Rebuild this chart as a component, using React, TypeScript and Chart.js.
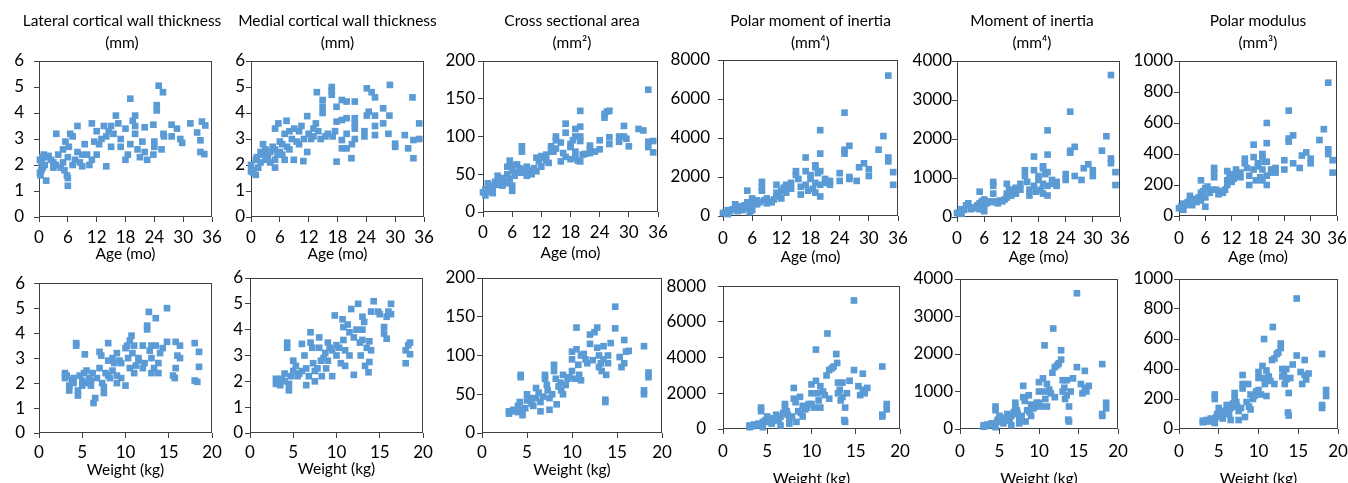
import React, { useEffect, useRef } from 'react';
import { Chart, registerables } from 'chart.js';

Chart.register(...registerables);

type Pt = number[];

// ---------- tick values ----------
const AGE_TICKS = [0, 6, 12, 18, 24, 30, 36];
const WEIGHT_TICKS = [0, 5, 10, 15, 20];
const THICK_TICKS = [0, 1, 2, 3, 4, 5, 6];
const AREA_TICKS = [0, 50, 100, 150, 200];
const POLAR_TICKS = [0, 2000, 4000, 6000, 8000];
const MOMENT_TICKS = [0, 1000, 2000, 3000, 4000];
const MODULUS_TICKS = [0, 200, 400, 600, 800, 1000];

// ---------- titles ----------
const TITLES = [
  ['Lateral cortical wall thickness', '(mm)'],
  ['Medial cortical wall thickness', '(mm)'],
  ['Cross sectional area', '(mm\u00B2)'],
  ['Polar moment of inertia', '(mm\u2074)'],
  ['Moment of inertia', '(mm\u2074)'],
  ['Polar modulus', '(mm\u00B3)'],
];
const AGE_LABEL = 'Age (mo)';
const WEIGHT_LABEL = 'Weight (kg)';

// ---------- data: [x, y] ----------
const lateralAge: Pt[] = [
  [0.2, 1.7], [0.3, 1.6], [0.5, 1.8], [0.8, 1.9], [0.5, 2.1], [0.2, 2.2], [0.7, 2.3], [1.0, 2.4], [1.2, 2.0], [1.5, 1.4],
  [1.5, 2.3], [2, 2.35], [2.5, 2.2], [3, 2.1], [3, 1.9], [3.5, 2.0], [4, 2.4], [3.6, 3.2], [4.5, 1.9], [5, 2.1],
  [5, 2.6], [5.3, 1.8], [5.5, 2.9], [5.8, 1.6], [6, 1.2], [6, 1.5], [6, 2.3], [6.2, 2.7], [6.5, 3.2], [7, 2.0],
  [7, 3.1], [7.5, 2.2], [8, 2.5], [8, 3.5], [8.5, 2.1], [9, 1.95], [9, 2.4], [9.5, 2.8], [10, 2.4], [10.5, 2.0],
  [11, 3.6], [11, 2.2], [11.5, 2.9], [12, 3.3], [12, 2.4], [12.5, 2.8], [13, 3.0], [13.5, 3.5], [14, 3.1], [14, 1.95],
  [14.5, 3.3], [15, 3.5], [15, 2.7], [15.5, 3.2], [16, 3.9], [16.5, 3.6], [17, 3.0], [17, 2.7], [18, 3.4], [18, 2.2],
  [18.5, 2.4], [19, 4.55], [19, 2.8], [19.5, 3.7], [20, 3.5], [20, 3.2], [20, 3.9], [20.5, 2.6], [21, 2.3], [21.5, 2.9],
  [22, 3.45], [22, 2.5], [22.5, 2.2], [23.8, 3.55], [24, 2.9], [23.8, 2.4], [24, 2.7], [24.5, 4.3], [24.5, 4.1], [24.9, 5.05],
  [25.5, 2.6], [25.8, 4.8], [25.9, 3.2], [26, 3.1], [27.6, 3.55], [27.6, 3.1], [28.7, 3.4], [29.4, 3.0], [29.8, 2.85], [31.5, 3.6],
  [32.9, 3.25], [33.6, 2.95], [33.9, 3.67], [34.6, 3.52], [33.6, 2.5], [34.4, 2.42],
];

const medialAge: Pt[] = [
  [0, 2.0], [0, 1.75], [0.3, 1.8], [0.5, 1.7], [1, 1.62], [1, 2.2], [1.2, 2.3], [1.5, 1.9], [2, 2.1], [2, 2.5],
  [2.5, 2.4], [2.5, 2.8], [3, 2.2], [3, 2.6], [3.5, 2.35], [4, 2.1], [4, 2.5], [4.5, 2.7], [5, 2.2], [5, 1.9],
  [5, 2.6], [5, 3.4], [5.5, 2.4], [6, 2.5], [5.7, 3.6], [6, 2.9], [6.5, 2.4], [6.5, 2.8], [7, 3.2], [7, 2.2],
  [7.5, 2.7], [7.4, 3.7], [8, 3.3], [8, 2.6], [8.5, 3.0], [8.9, 2.2], [9, 3.4], [9.5, 2.9], [10, 3.3], [10, 2.8],
  [10.5, 3.5], [10.9, 2.15], [11, 3.0], [11.7, 2.5], [11.7, 3.88], [12, 3.2], [12.5, 3.0], [13, 3.4], [13, 3.1], [13.5, 3.6],
  [13.7, 4.8], [14, 3.3], [14.5, 3.0], [14.9, 4.5], [14.9, 4.24], [14.9, 4.0], [15.5, 3.1], [16, 3.2], [16.8, 5.0], [16.8, 4.85],
  [16.8, 4.7], [17, 3.1], [17.5, 3.3], [17.8, 2.13], [17.8, 3.67], [17.8, 4.24], [18.9, 4.5], [18.9, 3.73], [18.9, 2.96], [18.9, 2.64],
  [19.9, 4.44], [19.9, 3.8], [19.9, 2.64], [19.9, 3.2], [20.9, 2.26], [21, 2.8], [21.6, 4.44], [21.6, 3.8], [21.6, 3.6], [21.6, 3.4],
  [21.6, 3.0], [23.6, 3.3], [23.6, 3.1], [24.1, 3.9], [24.5, 4.05], [24.1, 4.95], [25.1, 4.8], [25.8, 4.6], [25.8, 3.9], [25.8, 3.5],
  [25.8, 3.15], [27.5, 4.18], [27.5, 3.6], [28.9, 5.08], [28.8, 3.9], [28.6, 3.2], [30, 2.82], [30, 2.7], [32, 3.15], [32.7, 2.64],
  [33.6, 4.6], [33.8, 2.96], [33.8, 2.26], [35, 3.6], [35, 3.0],
];

const areaAge: Pt[] = [
  [0, 26], [0.5, 30], [0.5, 22], [1, 38], [1, 27], [1.5, 35], [2, 32], [2, 25], [2.5, 40], [3, 48],
  [3, 36], [3.5, 44], [4, 35], [4, 45], [4.5, 40], [5, 60], [5, 50], [5, 38], [5.5, 68], [5.5, 44],
  [6, 55], [6, 35], [6, 28], [6, 62], [6.5, 48], [7, 52], [7, 63], [7.5, 58], [8, 80], [8, 87],
  [8, 52], [8.5, 56], [9, 48], [9, 60], [9.5, 52], [10, 55], [10, 50], [10.5, 58], [11, 72], [11, 54],
  [11.5, 67], [12, 74], [12, 60], [12.5, 72], [13, 76], [13, 68], [13.5, 65], [14, 87], [14, 80], [14.5, 80],
  [15, 100], [15, 95], [15, 84], [16, 92], [16, 67], [16.5, 78], [17, 117], [17, 105], [17, 73], [18, 70],
  [18, 90], [18, 86], [18.5, 95], [19, 110], [19, 100], [19, 80], [19, 72], [19.5, 68], [20, 134], [20, 113],
  [20, 100], [20, 94], [20, 67], [20.5, 76], [21, 77], [22, 88], [22, 83], [22, 78], [23, 80], [24, 95],
  [24, 83], [25, 130], [25, 125], [25.5, 133], [26, 134], [26, 99], [26, 90], [28, 100], [28, 93], [29, 114],
  [29, 100], [29.5, 97], [30, 87], [32, 110], [33, 108], [34, 162], [34, 93], [34, 86], [35, 94], [35, 79],
];

const polarAge: Pt[] = [
  [0, 150], [0.5, 200], [1, 100], [1, 300], [1.5, 250], [2, 350], [2.5, 600], [3, 400], [3, 250], [3.5, 500],
  [4, 300], [4, 450], [4.5, 550], [5, 1300], [5, 700], [5, 400], [5.5, 600], [5.5, 200], [6, 900], [6, 500],
  [6, 300], [6.5, 750], [7, 800], [7, 600], [7.5, 700], [8, 1750], [8, 1500], [8, 1300], [8.5, 800], [9, 650],
  [9, 900], [9.5, 750], [10, 700], [10.5, 850], [11, 1600], [11, 1200], [11, 1000], [11.5, 1100], [12, 1300], [12, 900],
  [12.5, 1450], [13, 1200], [13, 1600], [13.5, 1500], [14, 1700], [14, 1400], [15, 2300], [15, 2100], [15.5, 1900], [16, 1100],
  [16, 1500], [17, 3000], [17, 2300], [17, 1600], [17.5, 1300], [18, 2100], [18, 1900], [18.5, 1400], [19, 2500], [19, 2600],
  [19, 1700], [19, 1200], [19.5, 2200], [20, 4400], [20, 3200], [20, 2300], [20, 1600], [20, 1000], [21, 1900], [21, 1700],
  [22, 1800], [22, 1600], [24, 2200], [24, 1800], [25, 5300], [25, 3400], [25, 3200], [26, 3600], [26, 2000], [26, 1900],
  [27.5, 1800], [28, 2500], [29, 2700], [30, 2400], [30, 2050], [32, 3400], [33, 4100], [34, 7200], [34, 3000], [34, 2800],
  [35, 2250], [35, 1600],
];

const momentAge: Pt[] = [
  [0, 100], [0.5, 120], [1, 200], [1, 80], [1.5, 180], [2, 300], [2.5, 350], [3, 200], [3.5, 250], [4, 220],
  [4.5, 300], [5, 650], [5, 350], [5, 200], [5.5, 400], [6, 450], [6, 150], [6, 300], [6.5, 350], [7, 400],
  [7.5, 380], [8, 900], [8, 800], [8, 600], [8.5, 400], [9, 350], [9.5, 420], [10, 400], [10.5, 450], [11, 850],
  [11, 600], [11, 500], [11.5, 700], [12, 650], [12, 550], [12.5, 700], [13, 750], [13, 600], [14, 850], [14, 700],
  [15, 1200], [15, 1050], [15.5, 900], [16, 550], [16, 700], [17, 1550], [17, 1200], [17, 800], [17.5, 650], [18, 1050],
  [18, 950], [18.5, 700], [19, 1300], [19, 1250], [19, 850], [19, 600], [19.5, 1100], [20, 2220], [20, 1600], [20, 1150],
  [20, 800], [20, 550], [21, 950], [21, 850], [22, 900], [22, 800], [24, 1100], [24, 950], [25, 2700], [25, 1700],
  [25, 1650], [26, 1800], [26, 1050], [27.5, 950], [28, 1250], [29, 1350], [30, 1200], [30, 1050], [32, 1700], [33, 2070],
  [34, 3640], [34, 1500], [34, 1380], [35, 1150], [35, 820],
];

const modulusAge: Pt[] = [
  [0, 50], [0.5, 60], [1, 80], [1, 40], [1.5, 70], [2, 90], [2.5, 130], [3, 100], [3, 70], [3.5, 110],
  [4, 90], [4.5, 120], [5, 230], [5, 150], [5, 100], [5.5, 160], [6, 180], [6, 60], [6, 120], [6.5, 190],
  [7, 150], [7.5, 170], [8, 310], [8, 280], [8, 250], [8.5, 170], [9, 140], [9.5, 160], [10, 150], [10.5, 170],
  [11, 290], [11, 230], [11, 200], [11.5, 250], [12, 270], [12, 220], [12.5, 240], [13, 300], [13, 260], [14, 280],
  [14, 250], [15, 370], [15, 340], [15.5, 310], [16, 200], [16, 260], [17, 460], [17, 380], [17, 300], [17.5, 230],
  [18, 340], [18, 320], [18.5, 250], [19, 400], [19, 380], [19, 300], [19, 230], [19.5, 350], [20, 600], [20, 470],
  [20, 350], [20, 260], [20, 200], [21, 300], [21, 280], [22, 310], [22, 280], [24, 360], [24, 300], [25, 680],
  [25, 500], [25, 480], [26, 520], [26, 340], [27.5, 310], [28, 390], [29, 410], [30, 370], [30, 340], [32, 490],
  [33, 560], [34, 860], [34, 430], [34, 400], [35, 360], [35, 280],
];

const lateralWeight: Pt[] = [
  [3, 2.4], [3, 2.2], [3.2, 2.3], [3.5, 1.7], [3.5, 1.9], [3.8, 2.1], [4, 2.0], [4, 2.2], [4.3, 3.6], [4.3, 3.5],
  [4.5, 1.5], [4.5, 1.7], [4.7, 2.3], [5, 2.1], [5, 1.9], [5.2, 2.4], [5.3, 3.15], [5.5, 2.5], [5.5, 2.0], [5.8, 2.2],
  [6, 1.9], [6, 2.1], [6.2, 2.4], [6.3, 1.2], [6.5, 1.4], [6.7, 2.2], [7, 2.6], [7, 3.25], [7.2, 3.1], [7.3, 2.0],
  [7.5, 1.6], [7.5, 1.85], [7.7, 2.4], [8, 3.6], [8, 2.9], [8, 2.3], [8.2, 2.2], [8.5, 3.0], [8.5, 2.5], [8.7, 2.8],
  [9, 3.2], [9, 2.0], [9, 2.3], [9.3, 2.9], [9.5, 2.8], [9.5, 2.2], [10, 1.9], [10, 3.4], [10.2, 3.5], [10.3, 3.0],
  [10.5, 3.7], [10.5, 2.6], [10.7, 3.9], [10.8, 3.2], [11, 2.4], [11, 3.5], [11.2, 2.7], [11.5, 3.0], [11.5, 2.9], [12, 2.6],
  [12, 3.5], [12.2, 2.8], [12.5, 4.3], [12.5, 4.15], [12.7, 4.85], [12.8, 3.3], [13, 2.4], [13, 3.0], [13, 3.5], [13.3, 2.6],
  [13.5, 4.6], [13.5, 3.5], [13.8, 2.8], [13.8, 2.4], [14, 3.2], [14.3, 3.4], [14.8, 5.0], [14.8, 3.65], [15.5, 2.3], [15.7, 2.2],
  [15.8, 3.65], [15.8, 2.6], [16, 3.1], [16.3, 3.5], [16.3, 3.0], [18, 3.6], [18, 2.1], [18.3, 2.05], [18.5, 3.25], [18.5, 2.65],
];

const medialWeight: Pt[] = [
  [3, 2.1], [3, 1.9], [3.2, 2.0], [3.5, 1.85], [3.7, 2.1], [4, 2.0], [4, 2.3], [4.3, 3.5], [4.3, 3.3], [4.5, 1.65],
  [4.5, 1.9], [4.7, 2.2], [5, 2.8], [5, 2.4], [5.3, 2.6], [5.5, 2.2], [5.7, 2.3], [6, 3.45], [6, 2.4], [6.3, 3.0],
  [6.5, 1.85], [6.5, 2.5], [6.8, 2.2], [7, 3.9], [7, 3.5], [7.2, 3.3], [7.3, 2.7], [7.5, 2.0], [7.5, 2.4], [7.8, 2.5],
  [8, 3.7], [8, 3.3], [8.2, 2.8], [8.3, 2.2], [8.5, 2.9], [8.7, 3.1], [8.8, 2.5], [9, 3.5], [9, 2.8], [9.2, 3.3],
  [9.5, 3.2], [9.5, 2.2], [9.8, 4.55], [10, 3.4], [10, 3.0], [10.3, 3.3], [10.5, 2.7], [10.7, 4.4], [10.8, 4.1], [10.8, 3.6],
  [11, 3.2], [11, 2.6], [11.3, 4.2], [11.5, 3.9], [11.5, 3.0], [11.7, 4.8], [12, 2.25], [12, 3.7], [12.3, 4.0], [12.5, 5.0],
  [12.7, 3.5], [12.8, 3.0], [13, 4.5], [13, 4.0], [13, 3.6], [13.2, 4.3], [13.3, 2.6], [13.5, 3.3], [13.7, 2.35], [13.8, 2.75],
  [13.8, 3.55], [14, 4.7], [14, 3.2], [14.3, 5.1], [14.8, 4.7], [15, 4.6], [15.5, 4.1], [15.5, 3.85], [15.8, 4.5], [15.8, 3.65],
  [16, 4.7], [16.3, 5.0], [16.3, 4.6], [18, 3.2], [18, 2.7], [18.3, 3.4], [18.5, 3.5], [18.5, 3.05],
];

const areaWeight: Pt[] = [
  [3, 28], [3, 25], [3.3, 28], [3.5, 30], [4, 27], [4, 35], [4.2, 40], [4.3, 75], [4.3, 72], [4.5, 23],
  [4.5, 30], [4.8, 32], [5, 50], [5, 42], [5.3, 45], [5.5, 38], [5.7, 35], [6, 45], [6, 58], [6.3, 52],
  [6.5, 28], [6.5, 40], [6.8, 47], [7, 75], [7, 70], [7.2, 62], [7.3, 55], [7.5, 30], [7.5, 45], [7.8, 50],
  [8, 88], [8, 80], [8.2, 70], [8.3, 37], [8.5, 60], [8.7, 65], [8.8, 55], [9, 75], [9, 50], [9.3, 62],
  [9.5, 70], [9.7, 72], [10, 105], [10, 95], [10, 80], [10.3, 70], [10.5, 136], [10.5, 108], [10.7, 88], [10.8, 75],
  [11, 100], [11, 68], [11.3, 102], [11.5, 95], [11.7, 90], [12, 127], [12, 115], [12.3, 94], [12.5, 130], [12.8, 136],
  [12.8, 110], [13, 100], [13, 85], [13.2, 90], [13.3, 80], [13.5, 112], [13.5, 95], [13.7, 43], [13.7, 40], [13.8, 75],
  [14, 100], [14, 90], [14.3, 116], [14.8, 163], [14.8, 135], [15.3, 98], [15.5, 85], [15.8, 90], [15.8, 120], [16, 105],
  [16.3, 106], [18, 112], [18, 55], [18, 50], [18.5, 78], [18.5, 72],
];

const polarWeight: Pt[] = [
  [3, 200], [3, 100], [3.3, 150], [3.5, 250], [4, 200], [4, 300], [4.3, 1200], [4.3, 1000], [4.5, 100], [4.5, 400],
  [4.8, 500], [5, 700], [5, 400], [5.3, 600], [5.5, 300], [5.7, 450], [6, 800], [6, 600], [6.3, 500], [6.5, 200],
  [6.5, 700], [6.8, 900], [7, 1400], [7, 1200], [7.2, 1000], [7.3, 800], [7.5, 300], [7.5, 600], [7.8, 700], [8, 2300],
  [8, 1700], [8.2, 1500], [8.3, 400], [8.5, 1000], [8.7, 1800], [8.8, 900], [9, 1300], [9, 700], [9.3, 1100], [9.5, 1200],
  [9.7, 1400], [10, 2500], [10, 2000], [10, 1400], [10.3, 1200], [10.5, 2700], [10.5, 4450], [10.7, 2000], [10.8, 1600], [11, 2400],
  [11, 1200], [11.3, 2100], [11.5, 1900], [11.7, 3000], [11.8, 5350], [12, 3300], [12, 1700], [12.3, 3400], [12.5, 3500], [12.8, 4200],
  [12.9, 3700], [13, 2600], [13, 2000], [13.2, 2200], [13.3, 1600], [13.5, 2600], [13.5, 1800], [13.7, 500], [13.8, 400], [13.8, 1200],
  [14, 2000], [14.3, 2700], [14.8, 7200], [14.8, 3300], [15.3, 2400], [15.5, 1900], [15.8, 3100], [15.8, 2200], [16, 2000], [16.3, 2300],
  [18, 3500], [18, 800], [18, 700], [18.5, 1400], [18.5, 1100],
];

const momentWeight: Pt[] = [
  [3, 100], [3, 60], [3.3, 80], [3.5, 120], [4, 100], [4, 150], [4.5, 600], [4.5, 500], [4.5, 50], [4.7, 200],
  [4.8, 250], [5, 350], [5, 200], [5.3, 300], [5.5, 150], [5.7, 220], [6, 400], [6, 300], [6.3, 250], [6.5, 100],
  [6.5, 350], [6.8, 450], [7, 700], [7, 600], [7.2, 500], [7.3, 400], [7.5, 150], [7.5, 300], [7.8, 350], [8, 1150],
  [8, 850], [8.2, 750], [8.3, 200], [8.5, 500], [8.7, 900], [8.8, 450], [9, 650], [9, 350], [9.3, 550], [9.5, 600],
  [9.7, 700], [10, 1250], [10, 1000], [10, 700], [10.3, 600], [10.5, 1350], [10.7, 2230], [10.7, 1000], [10.8, 800], [11, 1200],
  [11, 600], [11.3, 1050], [11.5, 950], [11.7, 1500], [11.8, 2680], [12, 1650], [12, 850], [12.3, 1700], [12.5, 1750], [12.8, 2100],
  [12.8, 1850], [13, 1300], [13, 1000], [13.2, 1100], [13.3, 800], [13.5, 1300], [13.5, 900], [13.7, 250], [13.8, 200], [13.8, 600],
  [14, 1000], [14.3, 1350], [14.8, 3620], [14.8, 1650], [15.3, 1200], [15.5, 950], [15.8, 1550], [15.8, 1100], [16, 1000], [16.3, 1150],
  [18, 1730], [18, 400], [18, 350], [18.5, 700], [18.5, 550],
];

const modulusWeight: Pt[] = [
  [3, 55], [3, 45], [3.3, 50], [3.5, 60], [4, 50], [4, 70], [4.5, 230], [4.5, 200], [4.5, 40], [4.7, 80],
  [4.8, 100], [5, 140], [5, 90], [5.3, 120], [5.5, 70], [5.7, 100], [6, 160], [6, 120], [6.3, 100], [6.5, 60],
  [6.5, 140], [6.8, 170], [7, 240], [7, 210], [7.2, 180], [7.3, 150], [7.5, 60], [7.5, 120], [7.8, 140], [8, 360],
  [8, 300], [8, 270], [8.3, 80], [8.5, 180], [8.7, 300], [8.8, 150], [9, 230], [9, 130], [9.3, 200], [9.5, 220],
  [9.7, 250], [10, 380], [10, 340], [10, 260], [10.3, 230], [10.5, 420], [10.7, 600], [10.7, 340], [10.8, 300], [11, 390],
  [11, 220], [11.3, 350], [11.5, 320], [11.7, 460], [11.8, 680], [12, 470], [12, 300], [12.3, 500], [12.5, 510], [12.8, 570],
  [12.8, 540], [13, 400], [13, 350], [13.2, 370], [13.3, 300], [13.5, 400], [13.5, 330], [13.7, 110], [13.8, 90], [13.8, 240],
  [14, 340], [14.3, 430], [14.8, 870], [14.8, 490], [15.3, 380], [15.5, 300], [15.8, 460], [15.8, 360], [16, 330], [16.3, 370],
  [18, 500], [18, 160], [18, 140], [18.5, 260], [18.5, 220],
];

// ---------- style ----------
const BLUE = '#5B9BD5';
const AXIS = '#404040';
const FONT = 'Lato, "Open Sans", sans-serif';
const TICK_SIZE = 17;
const TITLE_SIZE = 15.5;
const XTITLE_SIZE = 15.5;
const TL = 5; // tick mark length
const YW = 62; // fixed y-axis box width

type Spec = {
  data: Pt[];
  xTicks: number[];
  yTicks: number[];
  title: string[] | null;
  xTitle: string;
  L: number; T: number; R: number; B: number;
  yGap: number; xLabelY: number; xTitleY: number; shift: number;
};

const SPECS: Spec[] = [
  { data: lateralAge, xTicks: AGE_TICKS, yTicks: THICK_TICKS, title: TITLES[0], xTitle: AGE_LABEL, L: 39, T: 61, R: 212, B: 217, yGap: 15, xLabelY: 238, xTitleY: 254, shift: -3.5 },
  { data: medialAge, xTicks: AGE_TICKS, yTicks: THICK_TICKS, title: TITLES[1], xTitle: AGE_LABEL, L: 251, T: 61, R: 424, B: 217, yGap: 6, xLabelY: 238, xTitleY: 254, shift: 0 },
  { data: areaAge, xTicks: AGE_TICKS, yTicks: AREA_TICKS, title: TITLES[2], xTitle: AGE_LABEL, L: 483, T: 61, R: 658, B: 212, yGap: 8, xLabelY: 233, xTitleY: 253, shift: 1.5 },
  { data: polarAge, xTicks: AGE_TICKS, yTicks: POLAR_TICKS, title: TITLES[3], xTitle: AGE_LABEL, L: 723, T: 60, R: 898, B: 216, yGap: 13, xLabelY: 239, xTitleY: 257, shift: 0 },
  { data: momentAge, xTicks: AGE_TICKS, yTicks: MOMENT_TICKS, title: TITLES[4], xTitle: AGE_LABEL, L: 957, T: 61, R: 1120, B: 217, yGap: 5, xLabelY: 239, xTitleY: 257, shift: -6.5 },
  { data: modulusAge, xTicks: AGE_TICKS, yTicks: MODULUS_TICKS, title: TITLES[5], xTitle: AGE_LABEL, L: 1179, T: 61, R: 1337, B: 216, yGap: 6, xLabelY: 239, xTitleY: 257, shift: 0 },
  { data: lateralWeight, xTicks: WEIGHT_TICKS, yTicks: THICK_TICKS, title: null, xTitle: WEIGHT_LABEL, L: 39, T: 278, R: 212, B: 433, yGap: 14, xLabelY: 453, xTitleY: 470, shift: 0 },
  { data: medialWeight, xTicks: WEIGHT_TICKS, yTicks: THICK_TICKS, title: null, xTitle: WEIGHT_LABEL, L: 250, T: 278, R: 423, B: 433, yGap: 7, xLabelY: 453, xTitleY: 469, shift: 0 },
  { data: areaWeight, xTicks: WEIGHT_TICKS, yTicks: AREA_TICKS, title: null, xTitle: WEIGHT_LABEL, L: 482, T: 278, R: 662, B: 433, yGap: 7, xLabelY: 453, xTitleY: 470, shift: 0 },
  { data: polarWeight, xTicks: WEIGHT_TICKS, yTicks: POLAR_TICKS, title: null, xTitle: WEIGHT_LABEL, L: 723, T: 278, R: 900, B: 429, yGap: 17, xLabelY: 452, xTitleY: 479, shift: 0 },
  { data: momentWeight, xTicks: WEIGHT_TICKS, yTicks: MOMENT_TICKS, title: null, xTitle: WEIGHT_LABEL, L: 960, T: 279, R: 1118, B: 429, yGap: 7, xLabelY: 452, xTitleY: 479, shift: 0 },
  { data: modulusWeight, xTicks: WEIGHT_TICKS, yTicks: MODULUS_TICKS, title: null, xTitle: WEIGHT_LABEL, L: 1179, T: 279, R: 1338, B: 429, yGap: 6, xLabelY: 452, xTitleY: 479, shift: 0 },
];

const boxPlugin = {
  id: 'plotBox',
  beforeDatasetsDraw(chart: any) {
    const { ctx, chartArea: a } = chart;
    ctx.save();
    ctx.strokeStyle = AXIS;
    ctx.lineWidth = 1;
    const l = Math.round(a.left) + 0.5;
    const t = Math.round(a.top) + 0.5;
    const r = Math.round(a.right) - 0.5;
    const b = Math.round(a.bottom) - 0.5;
    ctx.strokeRect(l, t, r - l, b - t);
    ctx.restore();
  },
};

function geometry(s: Spec) {
  const isTop = !!s.title;
  const canvasTop = isTop ? 0 : s.T - 14;
  const PR = YW + 2 * s.shift;
  const canvasLeft = s.L - YW;
  const width = Math.round(s.R - s.L + YW + PR);
  const xTitleLH = XTITLE_SIZE * 1.2;
  const canvasBottom = Math.round(s.xTitleY + xTitleLH / 2);
  const height = canvasBottom - canvasTop;
  const XH = canvasBottom - s.B;
  const tickLH = TICK_SIZE * 1.2;
  const xPad = s.xLabelY - s.B - TL - tickLH / 2;
  return { canvasTop, canvasLeft, width, height, XH, xPad, PR };
}

function Panel({ spec }: { spec: Spec }) {
  const ref = useRef<HTMLCanvasElement>(null);
  const g = geometry(spec);
  useEffect(() => {
    const s = spec;
    const isTop = !!s.title;
    const tickFont = { family: FONT, size: TICK_SIZE, lineHeight: 1.2 };
    const chart = new Chart(ref.current as HTMLCanvasElement, {
      type: 'scatter',
      data: {
        datasets: [
          {
            data: s.data.map((p) => ({ x: p[0], y: p[1] })),
            pointStyle: 'rect',
            pointRadius: 4.7,
            pointHoverRadius: 4.7,
            backgroundColor: BLUE,
            borderColor: BLUE,
            borderWidth: 0,
            clip: false,
          } as any,
        ],
      },
      options: {
        responsive: false,
        animation: false,
        events: [],
        devicePixelRatio: 1,
        layout: { padding: { top: isTop ? 0 : 14, left: 0, right: 0, bottom: 0 } },
        plugins: {
          legend: { display: false },
          tooltip: { enabled: false },
          title: {
            display: isTop,
            text: s.title || '',
            color: '#000',
            font: { family: FONT, size: TITLE_SIZE, weight: 'normal', lineHeight: 22 / TITLE_SIZE },
            padding: { top: 10, bottom: s.T - 10 - 44 },
          },
        },
        scales: {
          x: {
            type: 'linear',
            min: s.xTicks[0],
            max: s.xTicks[s.xTicks.length - 1],
            afterBuildTicks: (sc: any) => {
              sc.ticks = s.xTicks.map((v) => ({ value: v }));
            },
            afterFit: (sc: any) => {
              sc.height = g.XH;
            },
            grid: { display: true, drawOnChartArea: false, drawTicks: true, tickLength: TL, color: AXIS },
            border: { display: false },
            ticks: {
              color: '#000',
              font: tickFont,
              padding: g.xPad,
              maxRotation: 0,
              autoSkip: false,
              callback: (v: any) => String(v),
            },
            title: {
              display: true,
              text: s.xTitle,
              color: '#000',
              font: { family: FONT, size: XTITLE_SIZE, lineHeight: 1.2 },
              padding: 0,
            },
          },
          y: {
            type: 'linear',
            position: 'left',
            min: s.yTicks[0],
            max: s.yTicks[s.yTicks.length - 1],
            afterBuildTicks: (sc: any) => {
              sc.ticks = s.yTicks.map((v) => ({ value: v }));
            },
            afterFit: (sc: any) => {
              sc.width = YW;
            },
            grid: { display: true, drawOnChartArea: false, drawTicks: true, tickLength: TL, color: AXIS },
            border: { display: false },
            ticks: {
              color: '#000',
              font: tickFont,
              padding: Math.max(spec.yGap - TL, 0),
              autoSkip: false,
              callback: (v: any) => String(v),
            },
          },
          yRight: {
            type: 'linear',
            position: 'right',
            min: 0,
            max: 1,
            grid: { display: false },
            border: { display: false },
            ticks: { display: false },
            afterFit: (sc: any) => {
              sc.width = g.PR;
            },
          },
        },
      },
      plugins: [boxPlugin],
    } as any);
    return () => chart.destroy();
  }, []);
  return (
    <canvas
      ref={ref}
      width={g.width}
      height={g.height}
      style={{ position: 'absolute', left: g.canvasLeft, top: g.canvasTop, width: g.width, height: g.height }}
    />
  );
}

export default function App() {
  return (
    <div style={{ position: 'absolute', left: 0, top: 0, width: 1348, height: 483, overflow: 'hidden', background: '#fff' }}>
      {SPECS.map((s, i) => (
        <Panel key={i} spec={s} />
      ))}
    </div>
  );
}
